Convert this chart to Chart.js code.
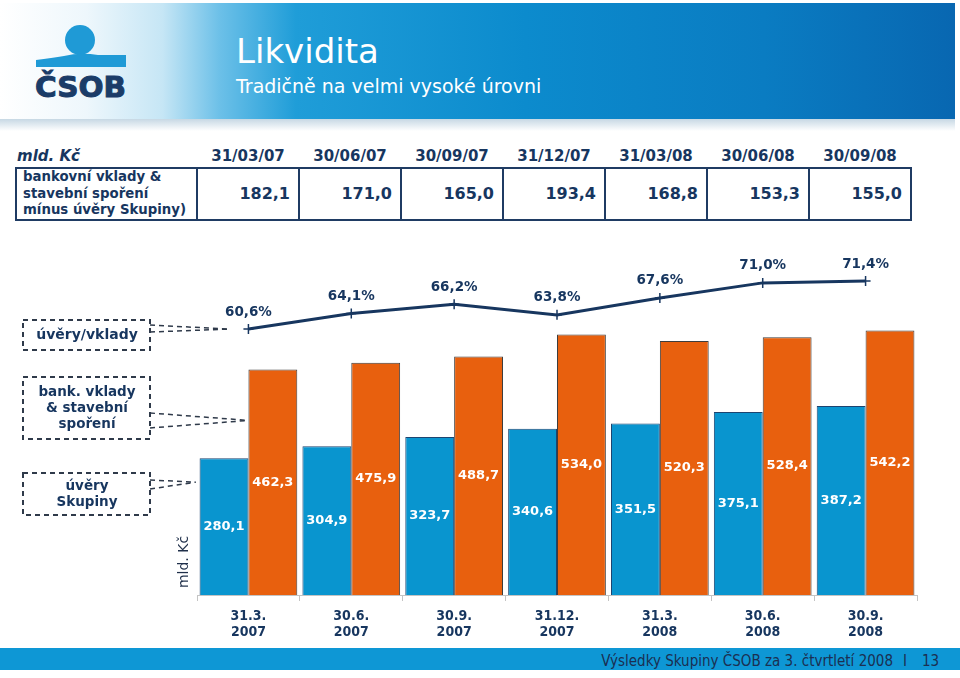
<!DOCTYPE html>
<html lang="cs">
<head>
<meta charset="utf-8">
<title>Likvidita</title>
<script src="https://cdn.jsdelivr.net/npm/chart.js@4.4.1/dist/chart.umd.min.js"></script>
<style>
  html, body { margin: 0; padding: 0; background: #fff; }
  body {
    width: 960px; height: 678px; position: relative; overflow: hidden;
    font-family: 'DejaVu Sans', Verdana, sans-serif; color: #17365f;
  }
  #header { position: absolute; left: 0; top: 0; }
  #liq { position: absolute; left: 15px; top: 145px; border-collapse: collapse; table-layout: fixed; }
  #liq th { height: 22px; padding: 0; font-size: 15px; font-weight: bold; text-align: center; color: #17365f; }
  #liq th.unit { text-align: left; padding-left: 1px; font-style: italic; }
  #liq td { height: 49px; border: 2px solid #1f3b63; padding: 0 8px 0 0; font-size: 16px; font-weight: bold; text-align: right; }
  #liq td.lbl { text-align: left; padding-left: 6px; font-size: 13.3px; line-height: 16.5px; white-space: nowrap; }
  #chartBox { position: absolute; left: 0; top: 230px; width: 960px; height: 418px; }
  #footer {
    position: absolute; left: 0; top: 648px; width: 960px; height: 22px; background: #0e97d5;
    font-family: 'DejaVu Sans Condensed', 'DejaVu Sans', sans-serif; font-size: 15px; color: #1b2f52;
  }
  #footer .txt { position: absolute; right: 67px; top: 4px; white-space: nowrap; }
  #footer .sep { position: absolute; left: 903px; top: 4px; }
  #footer .num { position: absolute; left: 922px; top: 4px; }
</style>
</head>
<body>

<svg id="header" width="960" height="135" xmlns="http://www.w3.org/2000/svg">
  <defs>
    <linearGradient id="band" x1="0" x2="1" y1="0" y2="0">
      <stop offset="0" stop-color="#ffffff"/>
      <stop offset="0.09" stop-color="#eef7fc"/>
      <stop offset="0.17" stop-color="#c6e6f5"/>
      <stop offset="0.23" stop-color="#6cc0e8"/>
      <stop offset="0.31" stop-color="#1f9dd8"/>
      <stop offset="0.55" stop-color="#0c8bcd"/>
      <stop offset="0.8" stop-color="#0a7cc2"/>
      <stop offset="1" stop-color="#0867b1"/>
    </linearGradient>
    <linearGradient id="shade" x1="0" x2="0" y1="0" y2="1">
      <stop offset="0" stop-color="#c7d8e4"/>
      <stop offset="1" stop-color="#ffffff"/>
    </linearGradient>
  </defs>
  <rect x="0" y="3" width="955" height="116" fill="url(#band)"/>
  <rect x="0" y="119" width="955" height="12" fill="url(#shade)"/>
  <circle cx="80" cy="40" r="15" fill="#1f9ad6"/>
  <path d="M36 60 Q52 58 64 56 Q80 52 98 55 L126 55 L126 67 L36 67 Z" fill="#1f9ad6"/>
  <text x="35" y="97" font-family="DejaVu Sans" font-weight="bold" font-size="29" fill="#1b3c68"
        stroke="#1b3c68" stroke-width="1" textLength="91" lengthAdjust="spacingAndGlyphs">ČSOB</text>
  <text x="236" y="63" font-family="DejaVu Sans" font-size="34" fill="#ffffff">Likvidita</text>
  <text x="236" y="93" font-family="DejaVu Sans" font-size="19" fill="#ffffff">Tradičně na velmi vysoké úrovni</text>
</svg>

<table id="liq"></table>

<div id="chartBox"><canvas id="chart" width="960" height="418"></canvas></div>

<div id="footer">
  <span class="txt">Výsledky Skupiny ČSOB za 3. čtvrtletí 2008</span>
  <span class="sep">I</span>
  <span class="num">13</span>
</div>

<script>
// table data
const tableDates = ['31/03/07', '30/06/07', '30/09/07', '31/12/07', '31/03/08', '30/06/08', '30/09/08'];
const liquidity = [182.1, 171.0, 165.0, 193.4, 168.8, 153.3, 155.0];

// chart data
const categories = [
  ['31.3.', '2007'], ['30.6.', '2007'], ['30.9.', '2007'], ['31.12.', '2007'],
  ['31.3.', '2008'], ['30.6.', '2008'], ['30.9.', '2008']
];
const loans = [280.1, 304.9, 323.7, 340.6, 351.5, 375.1, 387.2];
const deposits = [462.3, 475.9, 488.7, 534.0, 520.3, 528.4, 542.2];
const ratio = [60.6, 64.1, 66.2, 63.8, 67.6, 71.0, 71.4];

const NAVY = '#17365f';
const fmt = v => v.toFixed(1).replace('.', ',');

// build the table
const table = document.getElementById('liq');
let html = '<colgroup><col style="width:181px">' + tableDates.map(() => '<col style="width:102px">').join('') + '</colgroup>';
html += '<tr><th class="unit">mld. Kč</th>' + tableDates.map(d => '<th>' + d + '</th>').join('') + '</tr>';
html += '<tr><td class="lbl">bankovní vklady &amp;<br>stavební spoření<br>mínus úvěry Skupiny)</td>' +
  liquidity.map(v => '<td>' + fmt(v) + '</td>').join('') + '</tr>';
table.innerHTML = html;

// labels, callout boxes and unit text
const annotations = {
  id: 'annotations',
  afterDraw(chart) {
    const ctx = chart.ctx;
    const lineMeta = chart.getDatasetMeta(0);
    const loanMeta = chart.getDatasetMeta(1);
    const depMeta = chart.getDatasetMeta(2);

    ctx.save();
    ctx.textAlign = 'center';
    ctx.textBaseline = 'middle';

    // values inside bars
    ctx.fillStyle = '#ffffff';
    ctx.font = 'bold 13px "DejaVu Sans"';
    [[loanMeta, loans], [depMeta, deposits]].forEach(([meta, values]) => {
      meta.data.forEach((bar, i) => {
        ctx.fillText(fmt(values[i]), bar.x, (bar.y + bar.base) / 2);
      });
    });

    // ratio labels above points
    ctx.fillStyle = NAVY;
    ctx.font = 'bold 13.5px "DejaVu Sans"';
    lineMeta.data.forEach((pt, i) => {
      ctx.fillText(fmt(ratio[i]) + '%', pt.x, pt.y - 17);
    });

    // dashed callouts
    const first = lineMeta.data[0];
    const loan0 = loanMeta.data[0];
    const dep0 = depMeta.data[0];
    const boxes = [
      { y: 90, h: 30, lines: ['úvěry/vklady'], size: 14,
        from: [95, 102], to: { x: first.x - 20, y: first.y } },
      { y: 147, h: 62, lines: ['bank. vklady', '& stavební', 'spoření'], size: 13.5,
        from: [183, 198], to: { x: dep0.x - dep0.width / 2, y: dep0.y + 51 } },
      { y: 243, h: 42, lines: ['úvěry', 'Skupiny'], size: 13.5,
        from: [250, 259], to: { x: loan0.x - loan0.width / 2 - 4, y: (dep0.y + dep0.base) / 2 } }
    ];
    ctx.strokeStyle = '#2f3a4a';
    boxes.forEach(b => {
      ctx.setLineDash([5, 4]);
      ctx.lineWidth = 2;
      ctx.strokeRect(23, b.y, 127, b.h);
      ctx.lineWidth = 1.5;
      b.from.forEach(fy => {
        ctx.beginPath();
        ctx.moveTo(150, fy);
        ctx.lineTo(b.to.x, b.to.y);
        ctx.stroke();
      });
      ctx.setLineDash([]);
      ctx.fillStyle = NAVY;
      ctx.font = 'bold ' + b.size + 'px "DejaVu Sans"';
      const lh = 16;
      const top = b.y + b.h / 2 - (b.lines.length - 1) * lh / 2;
      b.lines.forEach((t, k) => ctx.fillText(t, 87, top + k * lh));
    });

    // unit text along the axis
    ctx.translate(184, 332);
    ctx.rotate(-Math.PI / 2);
    ctx.fillStyle = '#1f2f4a';
    ctx.font = '14px "DejaVu Sans"';
    ctx.fillText('mld. Kč', 0, 0);
    ctx.restore();
  }
};

new Chart(document.getElementById('chart'), {
  type: 'bar',
  data: {
    labels: categories,
    datasets: [
      {
        type: 'line',
        label: 'úvěry/vklady',
        data: ratio,
        yAxisID: 'y1',
        borderColor: NAVY,
        borderWidth: 3,
        pointStyle: 'cross',
        pointRadius: 5,
        pointBorderWidth: 1.5,
        pointBorderColor: NAVY,
        tension: 0,
        fill: false,
        order: 0
      },
      {
        label: 'úvěry Skupiny',
        data: loans,
        backgroundColor: '#0995cf',
        borderColor: '#1d4470',
        borderWidth: 1,
        order: 1
      },
      {
        label: 'bank. vklady & stavební spoření',
        data: deposits,
        backgroundColor: '#e8600e',
        borderColor: '#3d3d3d',
        borderWidth: 1,
        order: 2
      }
    ]
  },
  options: {
    responsive: false,
    animation: false,
    layout: { padding: { left: 170, right: 43, top: 20, bottom: 0 } },
    datasets: { bar: { categoryPercentage: 0.95, barPercentage: 1 } },
    plugins: {
      legend: { display: false },
      tooltip: { enabled: false }
    },
    scales: {
      x: {
        grid: { offset: true, drawOnChartArea: false, tickLength: 6, color: '#c4c4c4' },
        border: { color: '#c4c4c4' },
        ticks: {
          padding: 8,
          maxRotation: 0,
          color: NAVY,
          font: { family: "'DejaVu Sans Condensed', 'Liberation Sans', sans-serif", size: 14, weight: 'bold', lineHeight: 1.1 }
        },
        afterFit(scale) { scale.height = 53; }
      },
      y: {
        min: 0,
        max: 707,
        grid: { display: false },
        border: { display: false },
        ticks: { display: false },
        afterFit(scale) { scale.width = 27; }
      },
      y1: {
        display: false,
        min: 0.75,
        max: 78.4
      }
    }
  },
  plugins: [annotations]
});
</script>
</body>
</html>
